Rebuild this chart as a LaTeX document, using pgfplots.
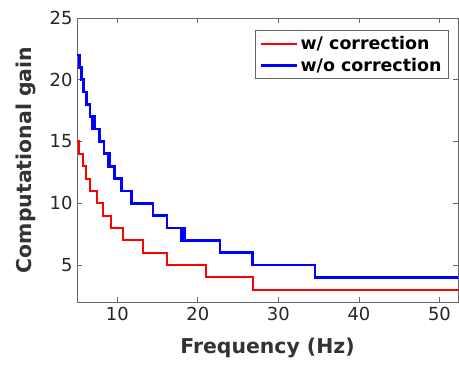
\documentclass[border=0pt]{standalone}
\usepackage{pgfplots}
\pgfplotsset{compat=1.18}
\usepackage{fontspec}
\setmainfont{DejaVu Sans}
\begin{document}
\begin{tikzpicture}
\begin{axis}[name=ax, at={(0,0)}, anchor=south west,
  scale only axis, width=381bp, height=284bp,
  xmin=5, xmax=52.3, ymin=2, ymax=25,
  xtick={10,20,30,40,50}, ytick={5,10,15,20,25},
  tick align=inside, major tick length=5bp,
  axis line style={black!60, line width=0.7bp},
  every tick/.style={black!60, line width=0.7bp},
  tick label style={font=\fontsize{18}{20}\selectfont, text=black!85},
  xticklabel style={yshift=-2bp},
  yticklabel style={xshift=-1bp},
  /pgf/number format/assume math mode=true,
  xlabel={Frequency (Hz)}, ylabel={Computational gain},
  label style={font=\fontsize{20.5}{23}\selectfont\bfseries, text=black!80},
  xlabel style={at={(axis description cs:0.5,-0.162)}, anchor=center},
  ylabel style={at={(axis description cs:-0.134,0.5)}, anchor=center},
  legend style={at={(axis description cs:0.976,0.958)}, anchor=north east,
    font=\fontsize{17.5}{21}\selectfont\bfseries, draw=black!60, line width=0.7bp,
    inner xsep=5bp, inner ysep=4bp, row sep=3bp},
  legend cell align=left,
  legend image code/.code={\draw[#1] (0bp,0bp) -- (36bp,0bp);},
]
\addplot[const plot, red, line width=2bp] coordinates {
(5,15) (5.2,14) (5.7,13) (6.07,12) (6.57,11) (7.53,10) (8.27,9) (9.19,8)
(10.67,7) (13.14,6) (16.17,5) (21.04,4) (26.8,3) (52.5,3)};
\addlegendentry{w/ correction}
\addplot[const plot, blue, line width=2.7bp] coordinates {
(5,22) (5.27,21) (5.52,20) (5.83,19) (6.14,18) (6.63,17) (6.9,16) (7.0,17)
(7.1,16) (7.2,17) (7.25,16) (7.8,15) (8.36,14) (8.85,13) (8.95,14) (9.05,13)
(9.65,12) (10.54,11) (11.75,10) (14.44,9) (16.17,8) (17.95,7) (18.1,8)
(18.35,7) (22.74,6) (26.75,5) (34.53,4) (52.5,4)};
\addlegendentry{w/o correction}
\end{axis}
\pgfresetboundingbox
\path (ax.south west) ++(-77bp,-63bp) rectangle ++(459bp,365bp);
\end{tikzpicture}
\end{document}
